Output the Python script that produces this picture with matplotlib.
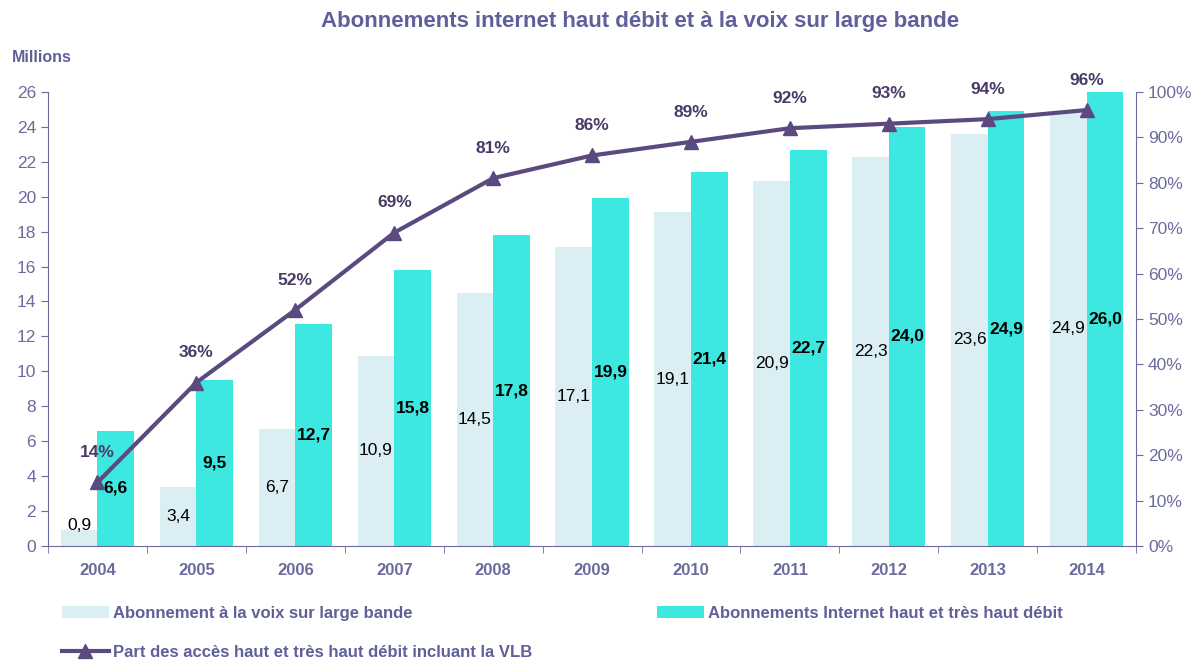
#Broadband subscriptions chart
import numpy as np
import matplotlib.pyplot as plt
from matplotlib.ticker import MultipleLocator, FuncFormatter, FixedLocator

#Data
years = ['2004', '2005', '2006', '2007', '2008', '2009', '2010', '2011', '2012', '2013', '2014']
vlb = [0.9, 3.4, 6.7, 10.9, 14.5, 17.1, 19.1, 20.9, 22.3, 23.6, 24.9]
internet = [6.6, 9.5, 12.7, 15.8, 17.8, 19.9, 21.4, 22.7, 24.0, 24.9, 26.0]
part = [14, 36, 52, 69, 81, 86, 89, 92, 93, 94, 96]

#Colors
light = '#DAEEF3'
cyan = '#3DE8E0'
purple = '#5B4A80'
dark_purple = '#4A3A68'
axis_col = '#6B6B9E'

plt.rcParams['font.family'] = ['Liberation Sans', 'DejaVu Sans']

fig = plt.figure(figsize=(12.01, 6.61), dpi=100)
ax = fig.add_axes([0.04, 0.174, 0.906, 0.687])
x = np.arange(len(years))
w = 0.37

b1 = ax.bar(x - w/2, vlb, w, color=light, label='Abonnement à la voix sur large bande')
b2 = ax.bar(x + w/2, internet, w, color=cyan, label='Abonnements Internet haut et très haut débit')

#Value labels
for i in range(len(years)):
    ax.text(x[i] - w/2, max(vlb[i]/2, 1.2), f'{vlb[i]:.1f}'.replace('.', ','),
            ha='center', va='center', fontsize=12.5, color='black')
    ax.text(x[i] + w/2, max(internet[i]/2, 2.0), f'{internet[i]:.1f}'.replace('.', ','),
            ha='center', va='center', fontsize=12.5, color='black', fontweight='bold')

ax.set_xlim(-0.5, len(years) - 0.5)
ax.set_ylim(0, 26)
ax.yaxis.set_major_locator(MultipleLocator(2))
ax.set_xticks(x)
ax.set_xticklabels(years, fontweight='bold', fontsize=12, color=axis_col)
ax.xaxis.set_minor_locator(FixedLocator(np.arange(-0.5, len(years), 1)))
ax.tick_params(axis='x', which='major', length=0, pad=12)
ax.tick_params(axis='x', which='minor', length=5, color=axis_col)
ax.tick_params(axis='y', labelsize=12.5, labelcolor=axis_col, color=axis_col, length=5)
for s in ['top', 'right']:
    ax.spines[s].set_visible(False)
for s in ['left', 'bottom']:
    ax.spines[s].set_color(axis_col)

#Right axis with percentages
ax2 = ax.twinx()
ln, = ax2.plot(x, part, color=purple, linewidth=3, marker='^', markersize=10,
               label='Part des accès haut et très haut débit incluant la VLB')
for i in range(len(years)):
    ax2.annotate(f'{part[i]}%', (x[i], part[i]), xytext=(0, 16), textcoords='offset points',
                 ha='center', va='bottom', fontsize=12.5, fontweight='bold', color=dark_purple)
ax2.set_ylim(0, 100)
ax2.yaxis.set_major_locator(MultipleLocator(10))
ax2.yaxis.set_major_formatter(FuncFormatter(lambda v, p: f'{v:.0f}%'))
ax2.tick_params(axis='y', labelsize=12.5, labelcolor=axis_col, color=axis_col, length=5)
for s in ['top', 'left', 'bottom']:
    ax2.spines[s].set_visible(False)
ax2.spines['right'].set_color(axis_col)

fig.text(0.533, 0.968, 'Abonnements internet haut débit et à la voix sur large bande',
         ha='center', va='center', fontsize=16, fontweight='bold', color='#5F5F9A')
fig.text(0.01, 0.913, 'Millions', ha='left', va='center', fontsize=11.5,
         fontweight='bold', color='#5F5F9A')

leg = fig.legend([b1, ln, b2], [b1.get_label(), ln.get_label(), b2.get_label()],
                 ncol=2, loc='upper left', bbox_to_anchor=(0.046, 0.094), frameon=False,
                 fontsize=12, columnspacing=7.5, handlelength=2.8, handletextpad=0.25,
                 labelspacing=1.45, borderaxespad=0)
for t in leg.get_texts():
    t.set_color('#5F5F9A')
    t.set_fontweight('bold')

fig.savefig('out.png', dpi=100)
